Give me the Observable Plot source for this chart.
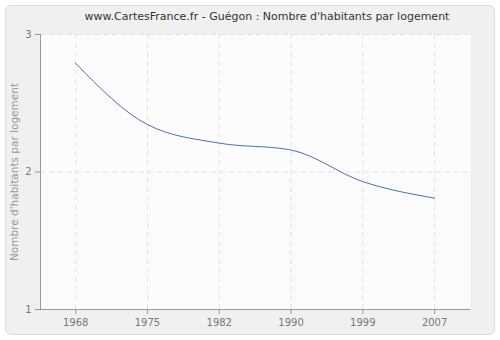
<!DOCTYPE html>
<html><head><meta charset="utf-8">
<script src="https://cdn.jsdelivr.net/npm/d3@7"></script>
<script src="https://cdn.jsdelivr.net/npm/@observablehq/plot@0.6"></script>
<style>
body{margin:0;background:#fff;}
#wrap{position:relative;width:500px;height:340px;font-family:"DejaVu Sans",Verdana,sans-serif;}
#panel{position:absolute;left:5px;top:5px;width:488px;height:328px;background:#f0f0f0;border:1px solid #dcdcdc;border-radius:6px;}
#title{position:absolute;left:0;width:534px;top:10px;text-align:center;font-size:11px;color:#333;}
#chart{position:absolute;left:0;top:0;}
</style></head>
<body>
<div id="wrap"><div id="panel"></div><div id="title">www.CartesFrance.fr - Guégon : Nombre d'habitants par logement</div><div id="chart"></div></div>
<script>
const years = [1968, 1975, 1982, 1990, 1999, 2007];
const values = [2.79, 2.345, 2.21, 2.16, 1.93, 1.81];
const yTicks = [1, 2, 3];
const data = years.map((y, i) => ({pos: i, year: y, value: values[i]}));
const xDomain = [-0.49, years.length - 0.5];

const plot = Plot.plot({
  width: 500, height: 340,
  marginLeft: 40, marginRight: 30, marginTop: 34, marginBottom: 31,
  style: {background: "transparent", fontFamily: "DejaVu Sans, Verdana, sans-serif", fontSize: "10px", color: "#777"},
  x: {domain: xDomain, label: null},
  y: {domain: [1, 3], label: null},
  marks: [
    Plot.frame({fill: "url(#hatchTop)", stroke: "none"}),
    Plot.rect([{y1: yTicks[0], y2: yTicks[1]}], {y1: "y1", y2: "y2", fill: "url(#hatchBot)"}),
    Plot.ruleX(data, {x: "pos", stroke: "#e2e2e2", strokeDasharray: "5,4"}),
    Plot.ruleY(yTicks.slice(1), {stroke: "#e2e2e2", strokeDasharray: "5,4"}),
    Plot.ruleX([xDomain[0]], {stroke: "#999"}),
    Plot.ruleY([yTicks[0]], {stroke: "#999"}),
    Plot.axisX({ticks: data.map(d => d.pos), tickFormat: i => String(years[i]), tickSize: 5, tickPadding: 4, stroke: "#999", fill: "#777", fontSize: 10, label: null}),
    Plot.axisY({ticks: yTicks, tickFormat: d => String(d), tickSize: 5, tickPadding: 4, stroke: "#999", fill: "#777", fontSize: 10, label: null}),
    Plot.text(["Nombre d'habitants par logement"], {frameAnchor: "left", dx: -26, rotate: -90, textAnchor: "middle", fill: "#999", fontSize: 10.5, text: d => d}),
    Plot.line(data, {x: "pos", y: "value", curve: "monotone-x", stroke: "#4a72a8", strokeWidth: 1})
  ]
});
const svg = d3.select(plot);
const defs = svg.insert("defs", ":first-child");
function hatch(id, bg, line) {
  const p = defs.append("pattern").attr("id", id).attr("patternUnits", "userSpaceOnUse")
    .attr("width", 4).attr("height", 4);
  p.append("rect").attr("width", 4).attr("height", 4).attr("fill", bg);
  p.append("path").attr("d", "M-1,1 l2,-2 M0,4 l4,-4 M3,5 l2,-2").attr("stroke", line).attr("stroke-width", 0.6);
}
hatch("hatchTop", "#ffffff", "#ececec");
hatch("hatchBot", "#fcfcfc", "#f3f3f3");
document.getElementById("chart").appendChild(plot);
</script>
</body></html>
